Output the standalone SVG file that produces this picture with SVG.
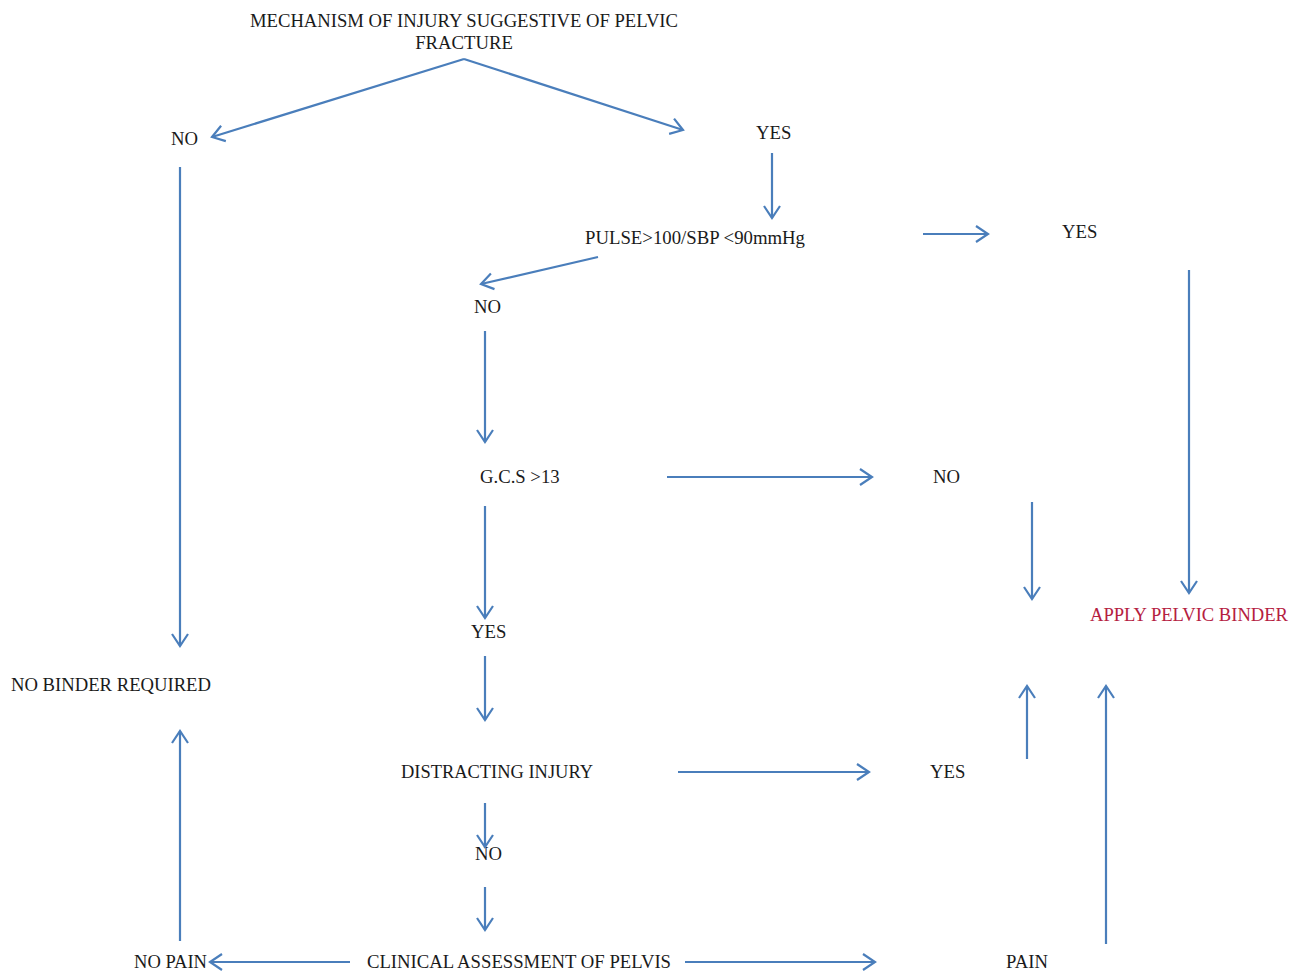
<svg xmlns="http://www.w3.org/2000/svg" width="1294" height="971" viewBox="0 0 1294 971">
<defs>
<style>
text{font-family:"Liberation Serif","Times New Roman",serif;font-size:18.7px;fill:#1a1a1a}
.red{fill:#b5203f}
.c line,.c polyline{stroke:#4a7ebb;stroke-width:2.2;fill:none}
</style>
<marker id="ah" markerUnits="userSpaceOnUse" markerWidth="20" markerHeight="20" viewBox="0 0 20 20" refX="15" refY="10" orient="auto">
<path d="M3,2 L15,10 L3,18" fill="none" stroke="#4a7ebb" stroke-width="2.2"/>
</marker>
</defs>
<rect width="1294" height="971" fill="#fff"/>
<g id="n-mech"><text x="464" y="27" text-anchor="middle" textLength="428" lengthAdjust="spacingAndGlyphs">MECHANISM OF INJURY SUGGESTIVE OF PELVIC</text><text x="464" y="49" text-anchor="middle">FRACTURE</text></g>
<g id="n-no1"><text x="171" y="145">NO</text></g>
<g id="n-yes1"><text x="756" y="139">YES</text></g>
<g id="n-pulse"><text x="585" y="244" textLength="220" lengthAdjust="spacingAndGlyphs">PULSE&gt;100/SBP &lt;90mmHg</text></g>
<g id="n-yes2"><text x="1062" y="238">YES</text></g>
<g id="n-no2"><text x="474" y="313">NO</text></g>
<g id="n-gcs"><text x="480" y="483">G.C.S &gt;13</text></g>
<g id="n-no3"><text x="933" y="483">NO</text></g>
<g id="n-binder"><text class="red" x="1090" y="621" textLength="198" lengthAdjust="spacingAndGlyphs">APPLY PELVIC BINDER</text></g>
<g id="n-yes3"><text x="471" y="638">YES</text></g>
<g id="n-nobinder"><text x="11" y="691" textLength="200" lengthAdjust="spacingAndGlyphs">NO BINDER REQUIRED</text></g>
<g id="n-distract"><text x="401" y="778" textLength="192" lengthAdjust="spacingAndGlyphs">DISTRACTING INJURY</text></g>
<g id="n-yes4"><text x="930" y="778">YES</text></g>
<g id="n-no4"><text x="475" y="860">NO</text></g>
<g id="n-nopain"><text x="134" y="968" textLength="73" lengthAdjust="spacingAndGlyphs">NO PAIN</text></g>
<g id="n-clinical"><text x="367" y="968" textLength="304" lengthAdjust="spacingAndGlyphs">CLINICAL ASSESSMENT OF PELVIS</text></g>
<g id="n-pain"><text x="1006" y="968">PAIN</text></g>
<g id="connectors" class="c">
<polyline points="464,59 212,137" marker-end="url(#ah)"/>
<polyline points="464,59 683,130" marker-end="url(#ah)"/>
<line x1="772" y1="153" x2="772" y2="218" marker-end="url(#ah)"/>
<line x1="598" y1="257" x2="481" y2="284" marker-end="url(#ah)"/>
<line x1="923" y1="234" x2="988" y2="234" marker-end="url(#ah)"/>
<line x1="1189" y1="270" x2="1189" y2="593" marker-end="url(#ah)"/>
<line x1="180" y1="167" x2="180" y2="646" marker-end="url(#ah)"/>
<line x1="485" y1="331" x2="485" y2="442" marker-end="url(#ah)"/>
<line x1="667" y1="477" x2="872" y2="477" marker-end="url(#ah)"/>
<line x1="1032" y1="502" x2="1032" y2="599" marker-end="url(#ah)"/>
<line x1="485" y1="506" x2="485" y2="618" marker-end="url(#ah)"/>
<line x1="485" y1="656" x2="485" y2="720" marker-end="url(#ah)"/>
<line x1="180" y1="941" x2="180" y2="731" marker-end="url(#ah)"/>
<line x1="678" y1="772" x2="869" y2="772" marker-end="url(#ah)"/>
<line x1="1027" y1="759" x2="1027" y2="686" marker-end="url(#ah)"/>
<line x1="1106" y1="944" x2="1106" y2="686" marker-end="url(#ah)"/>
<line x1="485" y1="803" x2="485" y2="847" marker-end="url(#ah)"/>
<line x1="485" y1="887" x2="485" y2="930" marker-end="url(#ah)"/>
<line x1="350" y1="962" x2="210" y2="962" marker-end="url(#ah)"/>
<line x1="685" y1="962" x2="875" y2="962" marker-end="url(#ah)"/>
</g>
</svg>
